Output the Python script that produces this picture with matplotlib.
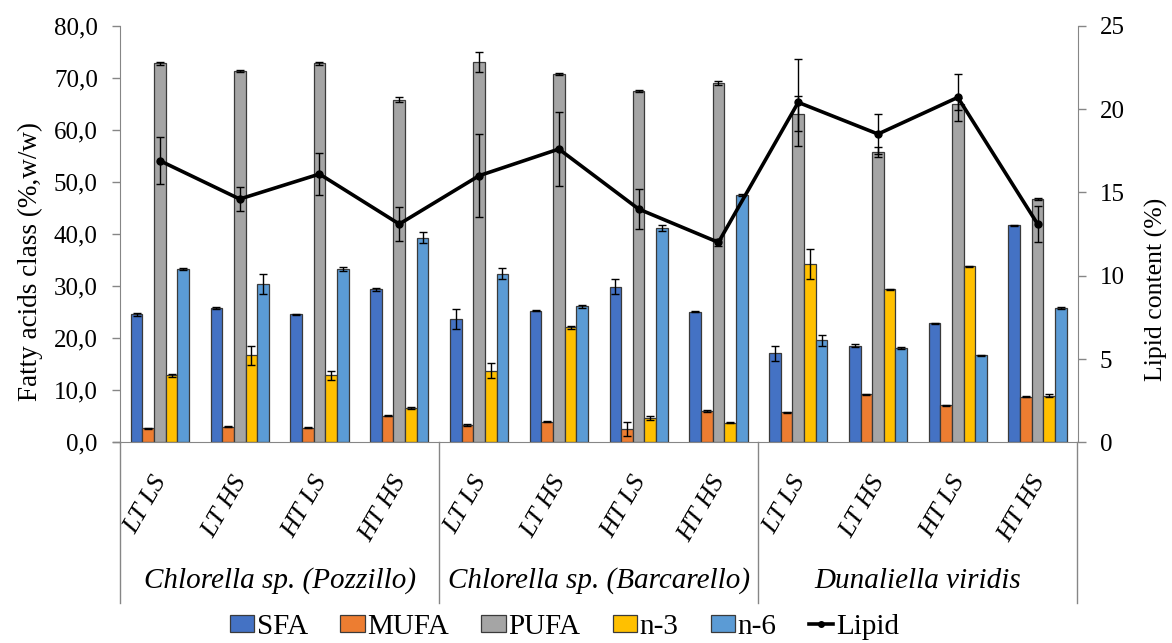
import numpy as np
import matplotlib
matplotlib.use("Agg")
import matplotlib.pyplot as plt
from matplotlib.lines import Line2D
from matplotlib.patches import Patch
import matplotlib.transforms as mtransforms
from matplotlib.ticker import FuncFormatter

plt.rcParams['font.family'] = ['Liberation Serif', 'DejaVu Serif']

categories = ["LT LS", "LT HS", "HT LS", "HT HS"] * 3
groups = ["Chlorella sp. (Pozzillo)", "Chlorella sp. (Barcarello)", "Dunaliella viridis"]

sfa = [24.6, 25.8, 24.6, 29.4, 23.7, 25.3, 29.9, 25.1, 17.1, 18.6, 22.9, 41.7]
sfa_err = [0.3, 0.1, 0.1, 0.3, 1.9, 0.1, 1.4, 0.1, 1.5, 0.3, 0.1, 0.1]
mufa = [2.7, 3.0, 2.8, 5.1, 3.3, 4.0, 2.6, 6.0, 5.8, 9.2, 7.1, 8.8]
mufa_err = [0.1, 0.1, 0.1, 0.1, 0.2, 0.1, 1.3, 0.2, 0.1, 0.1, 0.1, 0.1]
pufa = [72.8, 71.3, 72.8, 65.8, 73.1, 70.8, 67.5, 69.0, 63.1, 55.8, 65.0, 46.7]
pufa_err = [0.3, 0.1, 0.3, 0.5, 1.9, 0.2, 0.2, 0.3, 3.4, 1.0, 1.2, 0.2]
n3 = [12.9, 16.7, 12.9, 6.6, 13.8, 22.1, 4.7, 3.8, 34.2, 29.4, 33.8, 9.0]
n3_err = [0.3, 1.8, 0.9, 0.2, 1.5, 0.3, 0.4, 0.1, 2.9, 0.1, 0.1, 0.3]
n6 = [33.3, 30.4, 33.3, 39.3, 32.4, 26.1, 41.2, 47.5, 19.6, 18.2, 16.7, 25.8]
n6_err = [0.2, 1.9, 0.4, 1.0, 1.0, 0.3, 0.6, 0.1, 1.0, 0.2, 0.1, 0.2]
lipid = [16.9, 14.6, 16.1, 13.1, 16.0, 17.6, 14.0, 12.0, 20.4, 18.5, 20.7, 13.1]
lipid_err = [1.4, 0.7, 1.25, 1.0, 2.5, 2.2, 1.2, 0.2, 2.6, 1.2, 1.4, 1.1]

series_names = ["SFA", "MUFA", "PUFA", "n-3", "n-6"]
series_vals = [sfa, mufa, pufa, n3, n6]
series_errs = [sfa_err, mufa_err, pufa_err, n3_err, n6_err]
colors = ["#4472C4", "#ED7D31", "#A5A5A5", "#FFC000", "#5B9BD5"]

fig = plt.figure(figsize=(11.72, 6.43), dpi=100)
ax = fig.add_axes([120/1172, 1-442.4/643, (1077.5-120)/1172, (442.4-25.7)/643])
ax2 = ax.twinx()

x = np.arange(len(categories))
bw = 0.146
for i, (name, vals, errs, c) in enumerate(zip(series_names, series_vals, series_errs, colors)):
    off = (i - 2) * bw
    ax.bar(x + off, vals, bw, color=c, edgecolor="#3a3a3a", linewidth=0.9, label=name, zorder=2)
    ax.errorbar(x + off, vals, yerr=errs, fmt='none', ecolor='black', elinewidth=1.0,
                capsize=3, capthick=1.0, zorder=3)

ax2.errorbar(x, lipid, yerr=lipid_err, fmt='none', ecolor='black', elinewidth=1.0,
             capsize=3, capthick=1.0, zorder=4)
ax2.plot(x, lipid, color='black', lw=2.6, marker='o', ms=5, zorder=5)

ax.set_xlim(-0.5, len(categories) - 0.5)
ax.set_ylim(0, 80)
ax2.set_ylim(0, 25)
ax.set_yticks(np.arange(0, 81, 10))
ax.yaxis.set_major_formatter(FuncFormatter(lambda v, p: f"{v:.1f}".replace('.', ',')))
ax2.set_yticks(np.arange(0, 26, 5))

spine_col = "#868686"
for a in (ax, ax2):
    a.spines['top'].set_visible(False)
    for s in ('left', 'right', 'bottom'):
        a.spines[s].set_color(spine_col)
    a.tick_params(axis='y', colors=spine_col, labelcolor='black', labelsize=18, length=6, width=1)
ax.spines['right'].set_visible(False)
ax2.spines['left'].set_visible(False)
ax2.spines['bottom'].set_visible(False)
ax.set_xticks([])
ax.tick_params(axis='y', pad=10)
ax2.tick_params(axis='y', pad=10)

ax.set_ylabel("Fatty acids class (%,w/w)", fontsize=19.5)
ax.yaxis.set_label_coords(-0.08, 0.433)
ax2.set_ylabel("Lipid content (%)", fontsize=18.5)
ax2.yaxis.set_label_coords(1.0705, 0.368)

# group separators extending below the axis
trans = mtransforms.blended_transform_factory(ax.transData, ax.transAxes)
ybot = -(603 - 442.4) / (442.4 - 25.7)
for b in [-0.5, 3.5, 7.5, 11.5]:
    ax.add_line(Line2D([b, b], [0, ybot], transform=trans, color=spine_col, lw=1, clip_on=False))
ax.add_line(Line2D([-7/957.5, 0], [0, 0], transform=ax.transAxes, color=spine_col, lw=1, clip_on=False))

# category labels
for xi, lab in zip(x, categories):
    t = mtransforms.offset_copy(trans, fig=fig, x=2, y=-35, units='dots')
    ax.text(xi, 0, lab, transform=t, rotation=60, rotation_mode='anchor',
            ha='right', va='center', fontsize=19, style='italic', clip_on=False)

for gi, g in enumerate(groups):
    ax.text(gi * 4 + 1.5, -(581 - 442.4) / (442.4 - 25.7), g, transform=trans,
            ha='center', va='center', fontsize=21, style='italic')

handles = [Patch(facecolor=c, edgecolor="#3a3a3a", linewidth=0.9, label=n) for n, c in zip(series_names, colors)]
handles.append(Line2D([0], [0], color='black', lw=2.6, marker='o', ms=4, label='Lipid'))
fig.legend(handles=handles, loc='center', bbox_to_anchor=(564.5/1172, 1 - 627/643), ncol=6, frameon=False,
           fontsize=21, handlelength=0.83, handleheight=0.55, handletextpad=0.1, columnspacing=1.1,
           borderpad=0.1)

fig.savefig("out.png", dpi=100)
